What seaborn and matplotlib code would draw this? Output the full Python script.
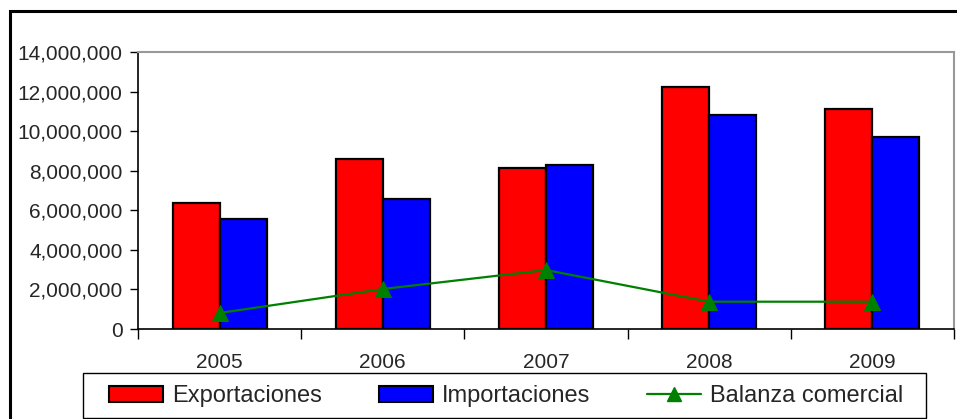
import numpy as np
import pandas as pd
import seaborn as sns
from matplotlib import pyplot as plt
from matplotlib.patches import Rectangle
from matplotlib.lines import Line2D
from matplotlib.ticker import FuncFormatter, FixedLocator

years = ['2005', '2006', '2007', '2008', '2009']
exportaciones = [6350000, 8590000, 8140000, 12230000, 11120000]
importaciones = [5560000, 6570000, 8290000, 10810000, 9700000]
balanza = [810000, 2020000, 2980000, 1380000, 1380000]

sns.set_style('white')
plt.rcParams['font.family'] = ['Liberation Sans', 'DejaVu Sans']

df = pd.DataFrame({
    'Year': years * 2,
    'Valor': exportaciones + importaciones,
    'Serie': ['Exportaciones'] * 5 + ['Importaciones'] * 5,
})

fig = plt.figure(figsize=(9.57, 4.19), dpi=100)
ax = fig.add_axes([138/957, 1 - 329/419, (954 - 138)/957, (329 - 52)/419])

sns.barplot(data=df, x='Year', y='Valor', hue='Serie', ax=ax,
            palette={'Exportaciones': '#FF0000', 'Importaciones': '#0000FF'},
            width=0.575, gap=0, edgecolor='black', linewidth=1.6,
            saturation=1, legend=False)

sns.lineplot(x=np.arange(len(years)), y=balanza, ax=ax, color='#008000',
             linewidth=1.6, marker='^', markersize=11, markeredgecolor='#008000')

ax.set_xlim(-0.5, 4.5)
ax.set_ylim(0, 14000000)
ax.set_yticks(np.arange(0, 14000001, 2000000))
ax.yaxis.set_major_formatter(FuncFormatter(lambda v, p: f'{int(v):,}'))
ax.set_xlabel('')
ax.set_ylabel('')
ax.tick_params(axis='y', direction='out', length=6, width=1, color='black',
               labelsize=15, pad=5, left=True)
ax.tick_params(axis='x', which='major', length=0, labelsize=15, pad=17)
ax.xaxis.set_minor_locator(FixedLocator(np.arange(-0.5, 5, 1)))
ax.tick_params(axis='x', which='minor', direction='out', length=7, width=1,
               color='black', bottom=True)
for s in ['left', 'bottom']:
    ax.spines[s].set_color('black')
    ax.spines[s].set_linewidth(1.2)
for s in ['top', 'right']:
    ax.spines[s].set_color('#999999')
    ax.spines[s].set_linewidth(1.5)

# outer chart border
fig.patches.append(Rectangle((10/957, -0.2), 1.2, 1.2 - 11/419,
                             transform=fig.transFigure, fill=False,
                             edgecolor='black', linewidth=2.2))

# legend box
fig.patches.append(Rectangle((83/957, 1 - 418/419), (926 - 83)/957, (418 - 373)/419,
                             transform=fig.transFigure, fill=False,
                             edgecolor='black', linewidth=1.0))

handles = [
    Rectangle((0, 0), 1, 1, facecolor='#FF0000', edgecolor='black', linewidth=1.5),
    Rectangle((0, 0), 1, 1, facecolor='#0000FF', edgecolor='black', linewidth=1.5),
    Line2D([0], [0], color='#008000', linewidth=1.6, marker='^', markersize=10),
]
leg = fig.legend(handles, ['Exportaciones', 'Importaciones', 'Balanza comercial'],
                 loc='center left', bbox_to_anchor=(109/957, 1 - 396/419),
                 ncol=3, fontsize=17, frameon=False, borderpad=0,
                 handlelength=2.3, handleheight=0.64, handletextpad=0.38,
                 columnspacing=2.4, borderaxespad=0)

fig.savefig('out.png', dpi=100)
